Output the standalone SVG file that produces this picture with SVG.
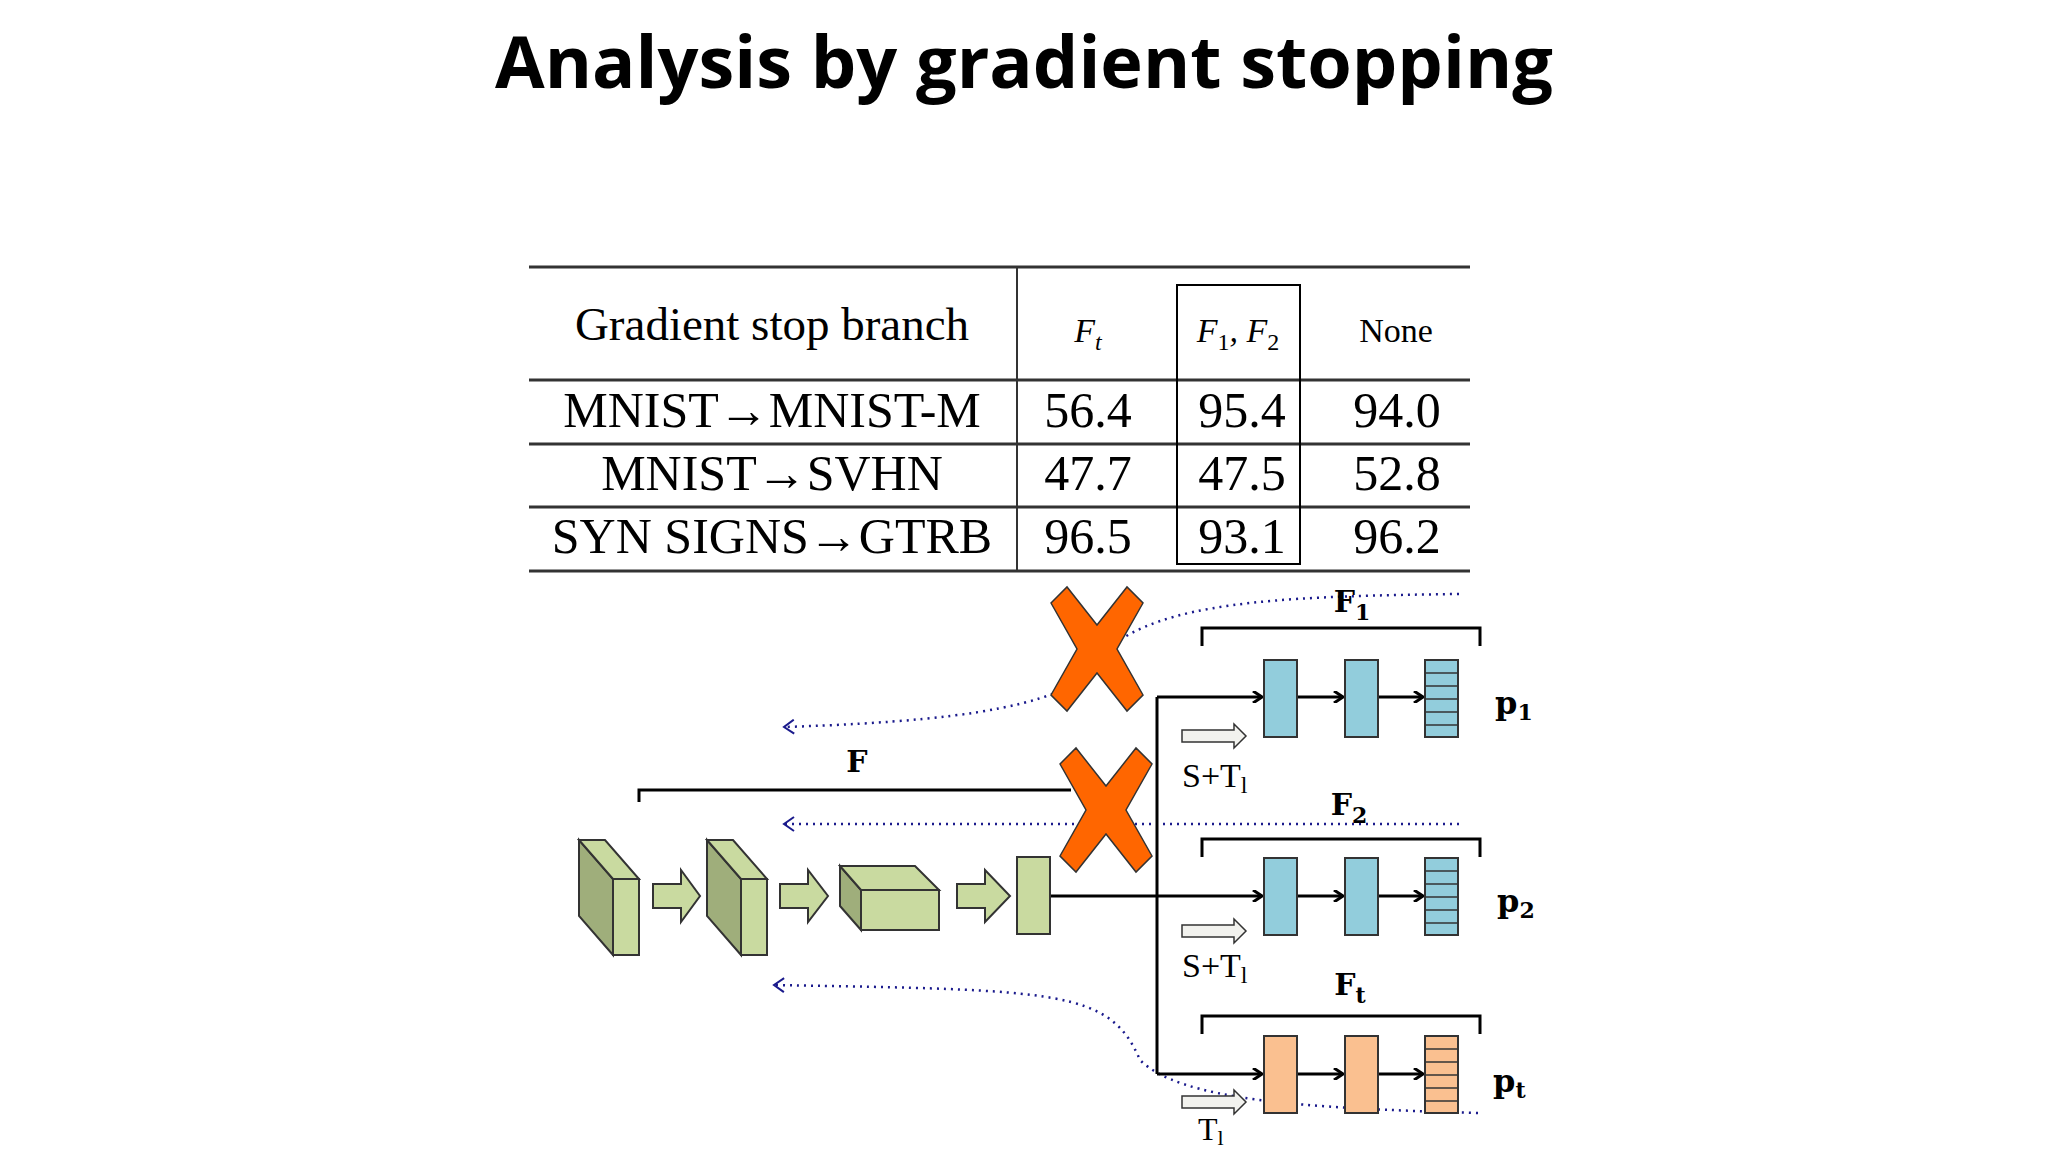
<svg xmlns="http://www.w3.org/2000/svg" width="2048" height="1152" viewBox="0 0 2048 1152">
<defs>
<style>
.t{font-family:"Liberation Serif",serif;fill:#000}
.tb{font-family:"DejaVu Serif","Liberation Serif",serif;font-weight:bold;fill:#000}
.ln{stroke:#000;stroke-width:3;fill:none}
.tl{stroke:#333;stroke-width:3}
.dot{stroke:#1a1a8c;stroke-width:2.5;stroke-dasharray:2 5;fill:none}
.blue{fill:#92cddc;stroke:#333;stroke-width:2}
.or{fill:#fac090;stroke:#333;stroke-width:2}
.gl{fill:#c9daa0;stroke:#333;stroke-width:2}
.gd{fill:#9fae7b;stroke:#333;stroke-width:2}
.wa{fill:#f2f2ee;stroke:#333;stroke-width:1.5}
.x{fill:#ff6600;stroke:#333;stroke-width:1.5}
</style>
<marker id="ah" markerWidth="12" markerHeight="12" refX="10" refY="6" orient="auto" markerUnits="userSpaceOnUse"><path d="M1,0 L10,6 L1,12" fill="none" stroke="#000" stroke-width="3"/></marker>
<marker id="da" markerWidth="14" markerHeight="16" refX="12" refY="8" orient="auto" markerUnits="userSpaceOnUse"><path d="M2,1 L12,8 L2,15" fill="none" stroke="#1a1a8c" stroke-width="2"/></marker>
<path id="xs" d="M-46,-46 L-30,-62 L0,-24 L30,-62 L46,-46 L20,0 L46,46 L30,62 L0,24 L-30,62 L-46,46 L-20,0 Z"/>
<path id="wa" d="M0,-6 L52,-6 L52,-12 L64,0 L52,12 L52,6 L0,6 Z"/>
</defs>
<rect width="2048" height="1152" fill="#fff"/>
<text x="1024" y="88" text-anchor="middle" font-family="'Open Sans','Noto Sans',sans-serif" font-weight="bold" font-size="72">Analysis by gradient stopping</text>

<g id="table">
<line class="tl" x1="529" y1="267" x2="1470" y2="267"/>
<line class="tl" x1="529" y1="380" x2="1470" y2="380"/>
<line class="tl" x1="529" y1="444" x2="1470" y2="444"/>
<line class="tl" x1="529" y1="507" x2="1470" y2="507"/>
<line class="tl" x1="529" y1="571" x2="1470" y2="571"/>
<line stroke="#333" stroke-width="2" x1="1017" y1="267" x2="1017" y2="571"/>
<rect x="1177" y="285" width="123" height="279" fill="none" stroke="#000" stroke-width="2"/>
<text class="t" x="772" y="340" text-anchor="middle" font-size="47">Gradient stop branch</text>
<text class="t" x="1088" y="342" text-anchor="middle" font-size="34" font-style="italic">F<tspan font-size="24" dy="8">t</tspan></text>
<text class="t" x="1238" y="342" text-anchor="middle" font-size="34" font-style="italic">F<tspan font-size="24" dy="8" font-style="normal">1</tspan><tspan dy="-8">, F</tspan><tspan font-size="24" dy="8" font-style="normal">2</tspan></text>
<text class="t" x="1396" y="342" text-anchor="middle" font-size="34">None</text>
<g font-size="50" class="t" text-anchor="middle">
<text class="t" x="772" y="427">MNIST→MNIST-M</text>
<text class="t" x="772" y="490">MNIST→SVHN</text>
<text class="t" x="772" y="553">SYN SIGNS→GTRB</text>
<text class="t" x="1088" y="427">56.4</text><text class="t" x="1242" y="427">95.4</text><text class="t" x="1397" y="427">94.0</text>
<text class="t" x="1088" y="490">47.7</text><text class="t" x="1242" y="490">47.5</text><text class="t" x="1397" y="490">52.8</text>
<text class="t" x="1088" y="553">96.5</text><text class="t" x="1242" y="553">93.1</text><text class="t" x="1397" y="553">96.2</text>
</g>
</g>

<g id="connectors">
<path class="dot" d="M1459,594 C1300,596 1180,600 1120,640 C1090,700 1000,720 784,727" marker-end="url(#da)"/>
<path class="dot" d="M1459,824 L784,824" marker-end="url(#da)"/>
<path class="dot" d="M1478,1113 C1300,1108 1180,1100 1140,1060 C1110,990 1060,990 774,985" marker-end="url(#da)"/>
<path class="ln" d="M639,802 L639,790 L1071,790"/>
<path class="ln" d="M1202,646 L1202,628 L1480,628 L1480,646"/>
<path class="ln" d="M1202,857 L1202,839 L1480,839 L1480,857"/>
<path class="ln" d="M1202,1034 L1202,1016 L1480,1016 L1480,1034"/>
<line class="ln" x1="1050" y1="896" x2="1262" y2="896" marker-end="url(#ah)"/>
<line class="ln" x1="1157" y1="697" x2="1157" y2="1074"/>
<line class="ln" x1="1157" y1="697" x2="1262" y2="697" marker-end="url(#ah)"/>
<line class="ln" x1="1157" y1="1074" x2="1262" y2="1074" marker-end="url(#ah)"/>
<line class="ln" x1="1297" y1="697" x2="1343" y2="697" marker-end="url(#ah)"/>
<line class="ln" x1="1378" y1="697" x2="1423" y2="697" marker-end="url(#ah)"/>
<line class="ln" x1="1297" y1="896" x2="1343" y2="896" marker-end="url(#ah)"/>
<line class="ln" x1="1378" y1="896" x2="1423" y2="896" marker-end="url(#ah)"/>
<line class="ln" x1="1297" y1="1074" x2="1343" y2="1074" marker-end="url(#ah)"/>
<line class="ln" x1="1378" y1="1074" x2="1423" y2="1074" marker-end="url(#ah)"/>
</g>

<g id="encoder">
<path class="gd" d="M579,840 L613,879 L613,955 L579,916 Z"/>
<path class="gl" d="M579,840 L605,840 L639,879 L613,879 Z"/>
<rect class="gl" x="613" y="879" width="26" height="76"/>
<path class="gl" d="M653,884 L681,884 L681,870 L700,896 L681,922 L681,908 L653,908 Z"/>
<path class="gd" d="M707,840 L741,879 L741,955 L707,916 Z"/>
<path class="gl" d="M707,840 L733,840 L767,879 L741,879 Z"/>
<rect class="gl" x="741" y="879" width="26" height="76"/>
<path class="gl" d="M780,884 L808,884 L808,870 L828,896 L808,922 L808,908 L780,908 Z"/>
<path class="gd" d="M840,866 L861,890 L861,930 L840,906 Z"/>
<path class="gl" d="M840,866 L915,866 L939,890 L861,890 Z"/>
<rect class="gl" x="861" y="890" width="78" height="40"/>
<path class="gl" d="M957,884 L985,884 L985,870 L1010,896 L985,922 L985,908 L957,908 Z"/>
<rect class="gl" x="1017" y="857" width="33" height="77"/>
<text class="tb" x="857" y="772" text-anchor="middle" font-size="30">F</text>
</g>

<g id="branch1">
<rect class="blue" x="1264" y="660" width="33" height="77"/>
<rect class="blue" x="1345" y="660" width="33" height="77"/>
<rect class="blue" x="1425" y="660" width="33" height="77"/>
<path d="M1425,673H1458M1425,686H1458M1425,699H1458M1425,712H1458M1425,725H1458" stroke="#333" stroke-width="1.5"/>
<text class="tb" x="1352" y="612" text-anchor="middle" font-size="30">F<tspan font-size="22" dy="8">1</tspan></text>
<text class="tb" x="1495" y="714" font-size="32">p<tspan font-size="22" dy="6">1</tspan></text>
</g>
<g id="branch2">
<rect class="blue" x="1264" y="858" width="33" height="77"/>
<rect class="blue" x="1345" y="858" width="33" height="77"/>
<rect class="blue" x="1425" y="858" width="33" height="77"/>
<path d="M1425,871H1458M1425,884H1458M1425,897H1458M1425,910H1458M1425,923H1458" stroke="#333" stroke-width="1.5"/>
<text class="tb" x="1349" y="815" text-anchor="middle" font-size="30">F<tspan font-size="22" dy="8">2</tspan></text>
<text class="tb" x="1497" y="912" font-size="32">p<tspan font-size="22" dy="6">2</tspan></text>
</g>
<g id="brancht">
<rect class="or" x="1264" y="1036" width="33" height="77"/>
<rect class="or" x="1345" y="1036" width="33" height="77"/>
<rect class="or" x="1425" y="1036" width="33" height="77"/>
<path d="M1425,1049H1458M1425,1062H1458M1425,1075H1458M1425,1088H1458M1425,1101H1458" stroke="#333" stroke-width="1.5"/>
<text class="tb" x="1350" y="995" text-anchor="middle" font-size="30">F<tspan font-size="22" dy="8">t</tspan></text>
<text class="tb" x="1493" y="1092" font-size="32">p<tspan font-size="22" dy="6">t</tspan></text>
</g>

<g id="inputs">
<use href="#wa" class="wa" x="1182" y="736"/>
<use href="#wa" class="wa" x="1182" y="931"/>
<use href="#wa" class="wa" x="1182" y="1102"/>
<text class="t" x="1182" y="787" font-size="34">S+T<tspan font-size="24" dy="6">l</tspan></text>
<text class="t" x="1182" y="977" font-size="34">S+T<tspan font-size="24" dy="6">l</tspan></text>
<text class="t" x="1198" y="1140" font-size="32">T<tspan font-size="22" dy="5">l</tspan></text>
</g>

<g id="cross1"><use href="#xs" class="x" x="1097" y="649"/></g>
<g id="cross2"><use href="#xs" class="x" x="1106" y="810"/></g>
</svg>
